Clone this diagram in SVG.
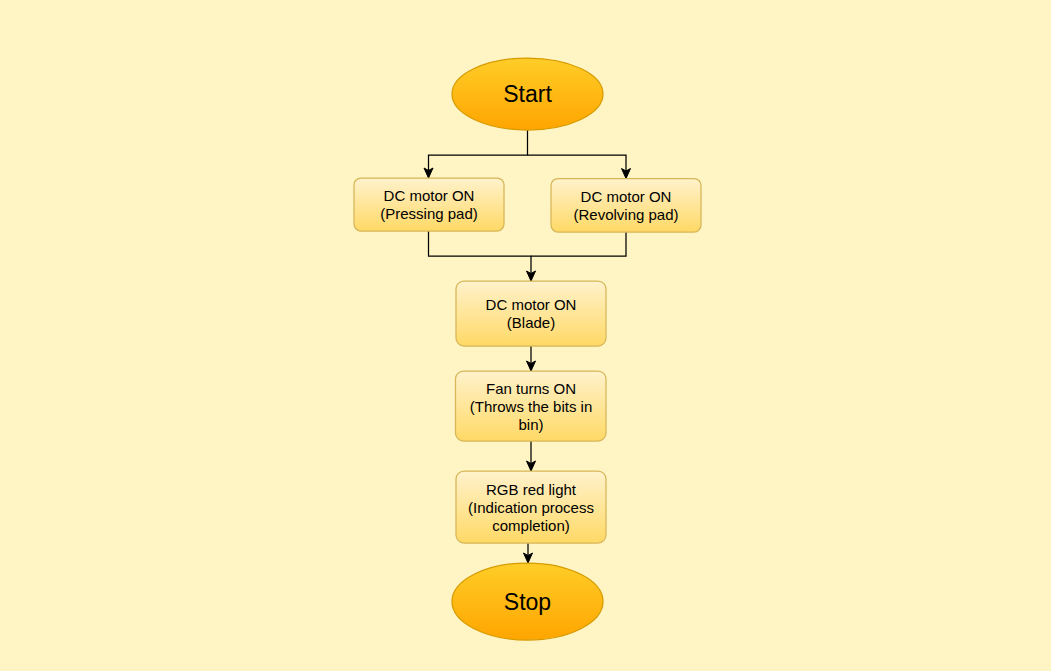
<svg xmlns="http://www.w3.org/2000/svg" width="1051" height="671" viewBox="0 0 1051 671">
<defs>
<linearGradient id="gOval" x1="0" y1="0" x2="0" y2="1"><stop offset="0" stop-color="#ffcd28"/><stop offset="1" stop-color="#ffa500"/></linearGradient>
<linearGradient id="gBox" x1="0" y1="0" x2="0" y2="1"><stop offset="0" stop-color="#fff2cc"/><stop offset="1" stop-color="#ffd966"/></linearGradient>
<marker id="arr" markerUnits="userSpaceOnUse" viewBox="-1 -6 12 12" markerWidth="12" markerHeight="12" refX="10" refY="0" orient="auto">
<path d="M0,-4.5 L10,0 L0,4.5 L2.5,0 Z" fill="#000" stroke="#000" stroke-width="1"/>
</marker>
<style>
.oval{fill:url(#gOval);stroke:#d79b00;stroke-width:1.25}
.box{fill:url(#gBox);stroke:#d6b656;stroke-width:1.25}
.t{font-family:"Liberation Sans",Arial,sans-serif;font-size:15px;fill:#000;text-anchor:middle}
.big{font-size:23px}
.c{fill:none;stroke:#000;stroke-width:1.25}
</style>
</defs>
<rect x="0" y="0" width="1051" height="671" fill="#fff4c4"/>
<g id="connectors">
<path class="c" d="M527.5,130 V155 H428.5 V178" marker-end="url(#arr)"/>
<path class="c" d="M527.5,155 H626 V178.5" marker-end="url(#arr)"/>
<path class="c" d="M428.5,231 V256 H531 V281" marker-end="url(#arr)"/>
<path class="c" d="M626,232 V256 H531"/>
<path class="c" d="M531,346 V371" marker-end="url(#arr)"/>
<path class="c" d="M531,441 V471" marker-end="url(#arr)"/>
<path class="c" d="M528,543 V563" marker-end="url(#arr)"/>
</g>
<g id="start">
<ellipse class="oval" cx="527.5" cy="94" rx="75.5" ry="36"/>
<text class="t big" x="527.5" y="102">Start</text>
</g>
<g id="pressing">
<rect class="box" x="354" y="178" width="150" height="53" rx="7"/>
<text class="t" x="429" y="201">DC motor ON</text>
<text class="t" x="429" y="219">(Pressing pad)</text>
</g>
<g id="revolving">
<rect class="box" x="551" y="178.5" width="150" height="53.5" rx="7"/>
<text class="t" x="626" y="201.5">DC motor ON</text>
<text class="t" x="626" y="219.5">(Revolving pad)</text>
</g>
<g id="blade">
<rect class="box" x="456" y="281" width="150" height="65" rx="8"/>
<text class="t" x="531" y="310">DC motor ON</text>
<text class="t" x="531" y="328">(Blade)</text>
</g>
<g id="fan">
<rect class="box" x="455.5" y="371" width="150.5" height="70" rx="8"/>
<text class="t" x="531" y="393.5">Fan turns ON</text>
<text class="t" x="531" y="411.5">(Throws the bits in</text>
<text class="t" x="531" y="429.5">bin)</text>
</g>
<g id="rgb">
<rect class="box" x="456" y="471" width="150" height="72" rx="8"/>
<text class="t" x="531" y="494.5">RGB red light</text>
<text class="t" x="531" y="512.5">(Indication process</text>
<text class="t" x="531" y="530.5">completion)</text>
</g>
<g id="stop">
<ellipse class="oval" cx="527.5" cy="601.5" rx="75.5" ry="38.5"/>
<text class="t big" x="527.5" y="610">Stop</text>
</g>
</svg>
